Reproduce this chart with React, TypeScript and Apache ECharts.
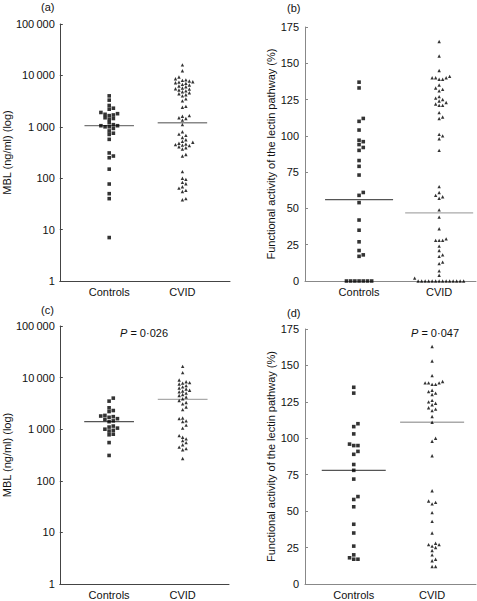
import React, { useEffect, useRef } from "react";
import * as echarts from "echarts";

// ---------------- data ----------------
const categories = ["Controls", "CVID"];

// (a) MBL (ng/ml), log scale
const ctrlA = [4000, 3300, 2600, 2300, 2200, 1900, 1800, 1750, 1700, 1650, 1500, 1450, 1400, 1200, 1100, 1050, 1050, 1000, 1000, 930, 830, 750, 710, 570, 310, 270, 250, 150, 77, 50, 40, 7];
const cvidA = [16000, 12300, 9300, 8600, 8200, 8000, 7800, 7500, 7400, 7200, 7000, 6700, 6500, 6200, 6000, 5700, 5500, 5400, 5200, 5000, 4800, 4600, 4400, 4200, 4000, 3500, 3200, 2500, 2400, 1650, 1600, 1500, 1450, 1350, 1100, 800, 720, 680, 620, 560, 520, 500, 480, 460, 450, 440, 430, 410, 390, 370, 290, 270, 134, 100, 95, 83, 78, 68, 64, 58, 55, 40, 38];
const medA = [1050, 1200];

// (b) functional activity (%), all subjects
const ctrlB = [137, 133, 112, 110, 104, 97, 96, 94, 92, 90, 83, 79, 73, 61, 59, 54, 42, 35, 27, 21, 18, 17, 0, 0, 0, 0, 0, 0, 0];
const cvidB = [165, 155, 145, 141, 140, 140, 140, 139, 139, 135, 133, 132, 131, 127, 126, 125, 124, 123, 122, 121, 121, 116, 113, 112, 101, 100, 98, 90, 65, 61, 59, 58, 57, 49, 44, 36, 29, 28, 28, 28, 24, 21, 18, 17, 13, 12, 7, 4, 2, 0, 0, 0, 0, 0, 0, 0, 0, 0, 0, 0, 0, 0, 0];
const medB = [56, 47];

// (c) MBL (ng/ml), log scale, subgroup
const ctrlC = [4000, 3500, 2600, 2300, 2200, 1850, 1800, 1750, 1700, 1600, 1550, 1450, 1400, 1150, 1100, 1050, 1000, 950, 920, 800, 780, 550, 310];
const cvidC = [16500, 12500, 9000, 8300, 8000, 7800, 7500, 7000, 6600, 6300, 6000, 5700, 5500, 5300, 5000, 4700, 4500, 4200, 3900, 3600, 3300, 3100, 2700, 2400, 1650, 1600, 1450, 1400, 1200, 1050, 750, 700, 650, 600, 550, 500, 450, 420, 400, 270];
const medC = [1400, 3800];

// (d) functional activity (%), subgroup
const ctrlD = [135, 131, 110, 108, 103, 96, 95, 95, 91, 89, 82, 78, 72, 60, 58, 53, 41, 35, 26, 20, 18, 17, 17];
const cvidD = [163, 153, 143, 139, 138, 138, 138, 137, 137, 133, 132, 131, 130, 126, 125, 124, 123, 121, 120, 119, 115, 111, 100, 98, 88, 64, 57, 56, 55, 49, 43, 35, 28, 27, 27, 26, 25, 23, 20, 17, 16, 12, 12];
const medD = [78, 111];

const pTexts = ["P = 0·026", "P = 0·047"];
const logTicks = [1, 10, 100, 1000, 10000, 100000];
const linTicks = [0, 25, 50, 75, 100, 125, 150, 175];

// ---------------- layout / style ----------------
const FONT = "Liberation Sans, Arial, sans-serif";

type Panel = {
  label: string;
  grid: { left: number; top: number; width: number; height: number };
  log: boolean;
  xMin: number;
  xMax: number;
  ctrl: number[];
  cvid: number[];
  med: number[];
  lineHalf: number;
  axisColor: string;
  medColors: string[];
  yName: string;
  nameGap: number;
};

const panels: Panel[] = [
  { label: "(a)", grid: { left: 58, top: 24, width: 172, height: 257 }, log: true, xMin: 0.325, xMax: 2.65, ctrl: ctrlA, cvid: cvidA, med: medA, lineHalf: 25, axisColor: "#444", medColors: ["#777", "#888"], yName: "MBL (ng/ml) (log)", nameGap: 39 },
  { label: "(b)", grid: { left: 305, top: 27, width: 171, height: 254 }, log: false, xMin: 0.325, xMax: 2.46, ctrl: ctrlB, cvid: cvidB, med: medB, lineHalf: 34, axisColor: "#888", medColors: ["#555", "#aaa"], yName: "Functional activity of the lectin pathway (%)", nameGap: 23 },
  { label: "(c)", grid: { left: 59, top: 326, width: 170, height: 258 }, log: true, xMin: 0.33, xMax: 2.63, ctrl: ctrlC, cvid: cvidC, med: medC, lineHalf: 25, axisColor: "#444", medColors: ["#555", "#aaa"], yName: "MBL (ng/ml) (log)", nameGap: 39 },
  { label: "(d)", grid: { left: 305, top: 329, width: 171, height: 255 }, log: false, xMin: 0.378, xMax: 2.56, ctrl: ctrlD, cvid: cvidD, med: medD, lineHalf: 32, axisColor: "#888", medColors: ["#555", "#aaa"], yName: "Functional activity of the lectin pathway (%)", nameGap: 23 },
];

// beeswarm offsets (pixels) computed from vertical pixel positions
function swarm(values: number[], toPx: (v: number) => number, s: number, d: number): number[] {
  const items = values.map((v, i) => ({ y: toPx(v), i })).sort((a, b) => a.y - b.y);
  const placed: { x: number; y: number }[] = [];
  const offs = new Array(values.length).fill(0);
  for (const it of items) {
    for (let k = 0; k < 60; k++) {
      const m = k === 0 ? 0 : k % 2 === 1 ? (k + 1) / 2 : -k / 2;
      const x = m * s;
      const hit = placed.some((p) => Math.abs(p.x - x) < s * 0.99 && Math.abs(p.y - it.y) < d);
      if (!hit) {
        placed.push({ x, y: it.y });
        offs[it.i] = x;
        break;
      }
    }
  }
  return offs;
}

function fmtLog(v: number) {
  const s = String(Math.round(v));
  return v >= 1000 ? s.replace(/\B(?=(\d{3})+(?!\d))/g, "\u2009") : s;
}

function buildOption() {
  const grids: any[] = [];
  const xAxes: any[] = [];
  const yAxes: any[] = [];
  const series: any[] = [];
  panels.forEach((p, idx) => {
    grids.push({ ...p.grid, containLabel: false });
    const dataPerPx = (p.xMax - p.xMin) / p.grid.width;
    const toPx = p.log
      ? (v: number) => (p.grid.height * Math.log10(v)) / 5
      : (v: number) => (p.grid.height * v) / 175;
    xAxes.push({
      gridIndex: idx,
      type: "value",
      min: p.xMin,
      max: p.xMax,
      axisLine: { show: true, lineStyle: { color: p.axisColor, width: 1 } },
      axisTick: { show: false },
      splitLine: { show: false },
      axisLabel: {
        customValues: [1, 2],
        formatter: (v: number) => categories[Math.round(v) - 1] ?? "",
        color: "#111",
        fontSize: 11,
        fontFamily: FONT,
        margin: 5,
      },
    });
    const yBase: any = {
      gridIndex: idx,
      axisLine: { show: true, lineStyle: { color: p.axisColor, width: 1 } },
      axisTick: { show: true, inside: true, length: 3, lineStyle: { color: p.axisColor } },
      splitLine: { show: false },
      name: p.yName,
      nameLocation: "middle",
      nameGap: p.nameGap,
      nameTextStyle: { color: "#111", fontSize: 11, fontFamily: FONT },
    };
    if (p.log) {
      yAxes.push({
        ...yBase,
        type: "log",
        logBase: 10,
        min: logTicks[0],
        max: logTicks[logTicks.length - 1],
        axisLabel: { formatter: fmtLog, color: "#111", fontSize: 11, fontFamily: FONT, margin: 5 },
      });
    } else {
      yAxes.push({
        ...yBase,
        type: "value",
        min: linTicks[0],
        max: linTicks[linTicks.length - 1],
        interval: 25,
        axisLabel: { color: "#111", fontSize: 11, fontFamily: FONT, margin: 6 },
      });
    }
    const groups = [p.ctrl, p.cvid];
    groups.forEach((vals, g) => {
      const s = g === 0 ? 4.2 : 3.5;
      const offs = swarm(vals, toPx, s, 3.4);
      series.push({
        type: "scatter",
        xAxisIndex: idx,
        yAxisIndex: idx,
        symbol: g === 0 ? "rect" : "triangle",
        symbolSize: g === 0 ? 3.6 : 3.4,
        itemStyle: { color: "#000" },
        data: vals.map((v, i) => [g + 1 + offs[i] * dataPerPx, v]),
        z: 3,
      });
      const half = p.lineHalf * dataPerPx;
      series.push({
        type: "line",
        xAxisIndex: idx,
        yAxisIndex: idx,
        symbol: "none",
        lineStyle: { color: p.medColors[g], width: 1.3 },
        data: [
          [g + 1 - half, p.med[g]],
          [g + 1 + half, p.med[g]],
        ],
        z: 2,
      });
    });
  });

  const pStyle = (t: string) => ({
    text: t.replace(/^P/, "{i|P}"),
    font: `11px ${FONT}`,
    fill: "#111",
    rich: { i: { fontStyle: "italic", fontSize: 11, fontFamily: FONT, fill: "#111" } },
  });

  const graphic: any[] = [
    { type: "text", left: 41, top: 1, style: { text: panels[0].label, font: `11px ${FONT}`, fill: "#111" } },
    { type: "text", left: 287, top: 2, style: { text: panels[1].label, font: `11px ${FONT}`, fill: "#111" } },
    { type: "text", left: 41, top: 304, style: { text: panels[2].label, font: `11px ${FONT}`, fill: "#111" } },
    { type: "text", left: 287, top: 307, style: { text: panels[3].label, font: `11px ${FONT}`, fill: "#111" } },
    { type: "text", left: 120, top: 327, style: pStyle(pTexts[0]) },
    { type: "text", left: 411, top: 327, style: pStyle(pTexts[1]) },
  ];

  return {
    animation: false,
    backgroundColor: "#fff",
    grid: grids,
    xAxis: xAxes,
    yAxis: yAxes,
    series,
    graphic,
  };
}

export default function App() {
  const ref = useRef<HTMLDivElement>(null);
  useEffect(() => {
    if (!ref.current) return;
    const chart = echarts.init(ref.current, undefined, { renderer: "svg" });
    chart.setOption(buildOption() as any);
    return () => chart.dispose();
  }, []);
  return <div ref={ref} style={{ position: "absolute", left: 0, top: 0, width: 477, height: 601 }} />;
}
